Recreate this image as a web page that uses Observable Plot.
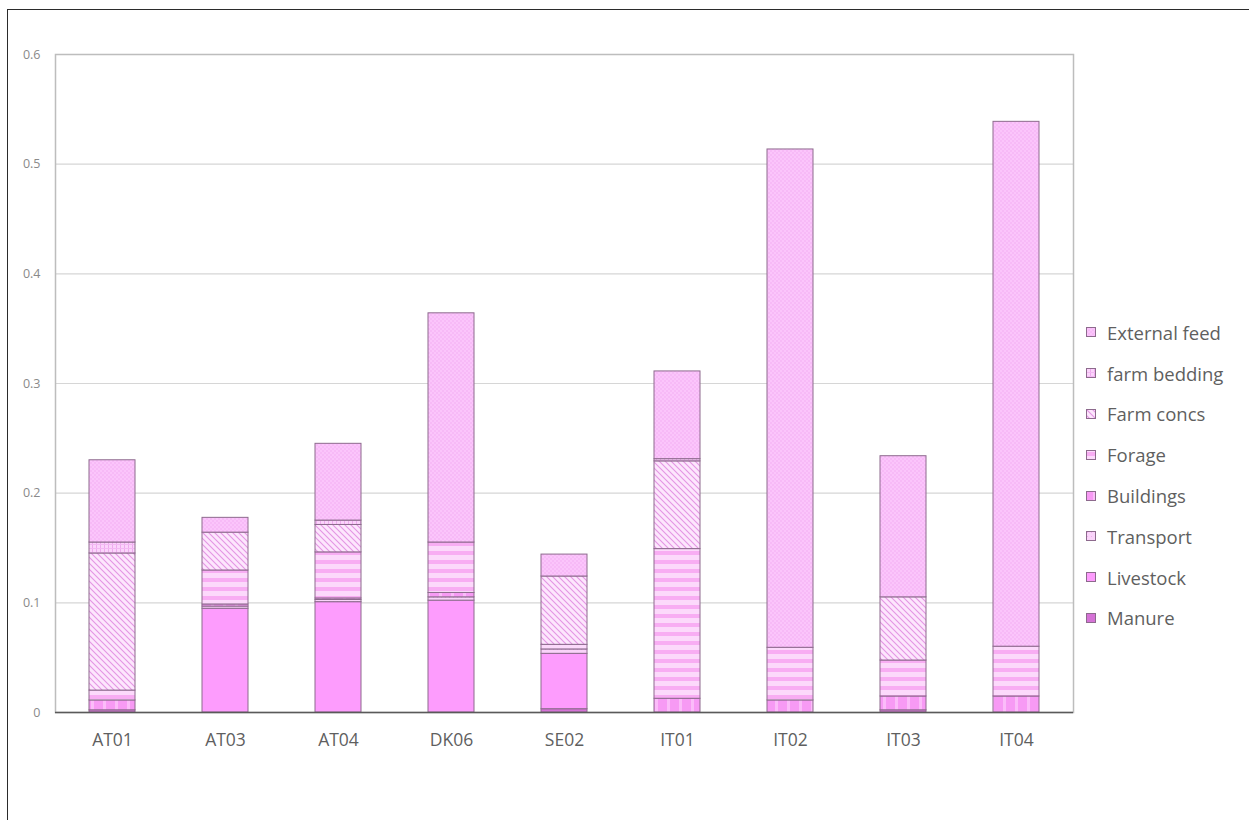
<!DOCTYPE html>
<html>
<head>
<meta charset="utf-8">
<script src="https://cdn.jsdelivr.net/npm/d3@7"></script>
<script src="https://cdn.jsdelivr.net/npm/@observablehq/plot@0.6"></script>
<style>
  html, body { margin: 0; padding: 0; background: #fff; overflow: hidden; }
  #wrap { position: relative; width: 1249px; height: 820px; overflow: hidden; font-family: "Open Sans", Lato, sans-serif; }
  #frame { position: absolute; left: 7px; top: 9px; width: 1300px; height: 900px; border: 1px solid #2b2b2b; }
  #chart { position: absolute; left: 0; top: 0; }
  #legend { position: absolute; left: 1086px; top: 312px; }
  .item { display: flex; align-items: center; height: 40.8px; font-size: 18.5px; color: #5f5f5f; }
  .item svg { margin-right: 11px; }
</style>
</head>
<body>
<svg width="0" height="0" style="position:absolute">
  <defs>
    <pattern id="p-ext" width="4" height="4" patternUnits="userSpaceOnUse">
      <rect width="4" height="4" fill="#fbc5fb"/>
      <rect width="2" height="2" fill="#f7baf7"/>
      <rect x="2" y="2" width="2" height="2" fill="#f7baf7"/>
    </pattern>
    <pattern id="p-bed" width="4" height="4" patternUnits="userSpaceOnUse">
      <rect width="4" height="4" fill="#fbd3fb"/>
      <rect width="1" height="4" fill="#eeaaee"/>
      <rect width="4" height="1" fill="#f3b8f3"/>
    </pattern>
    <pattern id="p-concs" width="6" height="6" patternUnits="userSpaceOnUse">
      <rect width="6" height="6" fill="#fde6fd"/>
      <path d="M0,0L6,6M-3,3L3,9M3,-3L9,3" stroke="#e495e4" stroke-width="1.1"/>
    </pattern>
    <pattern id="p-forage" width="9" height="9" patternUnits="userSpaceOnUse">
      <rect width="9" height="9" fill="#fcd9fb"/>
      <rect y="2" width="9" height="4" fill="#f8adf3"/>
    </pattern>
    <pattern id="p-build" width="12" height="12" patternUnits="userSpaceOnUse">
      <rect width="12" height="12" fill="#f79af4"/>
      <rect x="7" width="3" height="12" fill="#fbbcf9"/>
    </pattern>
    <pattern id="p-trans" width="4" height="4" patternUnits="userSpaceOnUse">
      <rect width="4" height="4" fill="#f9d3f9"/>
      <rect x="1" y="1" width="1" height="1" fill="#eeaeee"/>
    </pattern>
    <pattern id="p-live" width="4" height="4" patternUnits="userSpaceOnUse">
      <rect width="4" height="4" fill="#fd9cfd"/>
    </pattern>
    <pattern id="p-manure" width="4" height="4" patternUnits="userSpaceOnUse">
      <rect width="4" height="4" fill="#d572d6"/>
    </pattern>
  </defs>
</svg>
<div id="wrap">
  <div id="frame"></div>
  <div id="chart"></div>
  <div id="legend"></div>
</div>
<script>
// Farms along the x axis
const sites = ["AT01", "AT03", "AT04", "DK06", "SE02", "IT01", "IT02", "IT03", "IT04"];

// Stacked components, bottom to top
const seriesNames = ["Manure", "Livestock", "Transport", "Buildings", "Forage", "Farm concs", "farm bedding", "External feed"];

// Values per farm for each component
const manure      = [0.002, 0,      0,      0,     0.003,  0,      0,      0.002,  0];
const livestock   = [0,     0.0946, 0.1006, 0.102, 0.0505, 0,      0,      0,      0];
const transport   = [0,     0.002,  0.002,  0.003, 0.004,  0,      0,      0,      0];
const buildings   = [0.009, 0.0019, 0.0014, 0.004, 0,      0.0125, 0.011,  0.0126, 0.0146];
const forage      = [0.009, 0.031,  0.042,  0.046, 0.0042, 0.1365, 0.048,  0.0328, 0.0454];
const farmConcs   = [0.125, 0.0345, 0.025,  0,     0.0623, 0.080,  0,      0.0576, 0];
const farmBedding = [0.010, 0,      0.004,  0,     0,      0.002,  0,      0,      0];
const externalFeed= [0.075, 0.0135, 0.070,  0.209, 0.020,  0.080,  0.4544, 0.1287, 0.4786];

const yTicks = [0, 0.1, 0.2, 0.3, 0.4, 0.5, 0.6];

// Fill pattern per component
const patterns = ["url(#p-manure)", "url(#p-live)", "url(#p-trans)", "url(#p-build)", "url(#p-forage)", "url(#p-concs)", "url(#p-bed)", "url(#p-ext)"];

const seriesValues = [manure, livestock, transport, buildings, forage, farmConcs, farmBedding, externalFeed];
const rows = [];
seriesNames.forEach((s, i) => {
  sites.forEach((site, j) => {
    rows.push({site, series: s, value: seriesValues[i][j]});
  });
});

const chart = Plot.plot({
  width: 1249,
  height: 760,
  marginLeft: 55,
  marginRight: 176,
  marginTop: 54,
  marginBottom: 48,
  style: {background: "transparent", fontFamily: "'Open Sans', Lato, sans-serif"},
  x: {domain: sites, paddingInner: 0.59, paddingOuter: 0.295, label: null},
  y: {domain: [0, 0.6], label: null},
  color: {domain: seriesNames, range: patterns},
  marks: [
    Plot.gridY(yTicks, {stroke: "#d6d6d6", strokeOpacity: 1, strokeWidth: 1.2}),
    Plot.frame({stroke: "#bdbdbd", strokeWidth: 1.5}),
    Plot.barY(rows.filter(d => d.value > 0), Plot.stackY({
      x: "site", y: "value", z: "series", fill: "series", order: seriesNames,
      stroke: "#8d6a8d", strokeWidth: 1
    })),
    Plot.ruleY([0], {stroke: "#5a5a5a", strokeWidth: 1.6}),
    Plot.axisX({tickSize: 0, tickPadding: 21, fontSize: 17.5, fill: "#5f5f5f"}),
    Plot.axisY({ticks: yTicks, tickSize: 0, tickPadding: 15, fontSize: 12.5,
      tickFormat: d => d === 0 ? "0" : d3.format(".1f")(d), fill: "#8a8a8a"})
  ]
});
document.getElementById("chart").appendChild(chart);

// Legend, top entry first
const legend = d3.select("#legend");
seriesNames.slice().reverse().forEach(name => {
  const i = seriesNames.indexOf(name);
  const item = legend.append("div").attr("class", "item");
  const sw = item.append("svg").attr("width", 10).attr("height", 10);
  sw.append("rect").attr("x", 0.5).attr("y", 0.5).attr("width", 9).attr("height", 9)
    .attr("fill", patterns[i]).attr("stroke", "#8d6a8d").attr("stroke-width", 1);
  item.append("span").text(name);
});
</script>
</body>
</html>
